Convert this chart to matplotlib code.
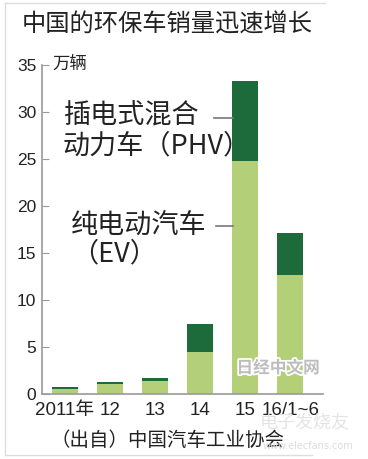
import matplotlib
matplotlib.use("Agg")
import matplotlib.pyplot as plt
import matplotlib.patheffects as pe
from matplotlib.lines import Line2D

categories = ["2011年", "12", "13", "14", "15", "16/1~6"]
ev = [0.5, 1.1, 1.4, 4.5, 24.8, 12.7]
phv = [0.25, 0.15, 0.3, 3.0, 8.5, 4.4]
yticks = [0, 5, 10, 15, 20, 25, 30, 35]

light = "#b3cf77"
dark = "#1d6a3b"
grey = "#9a9a9a"
NUM = ["Liberation Sans", "Noto Sans CJK SC", "DejaVu Sans"]
CJK = ["Noto Sans CJK SC", "DejaVu Sans"]

W, H = 368, 459
fig = plt.figure(figsize=(W / 100, H / 100), dpi=100)
fig.patch.set_facecolor("white")

def fx(px):
    return px / W

def fy(py):
    return 1 - py / H

ax = fig.add_axes([fx(42), fy(394), fx(323) - fx(42), fy(65) - fy(394)])
x = list(range(len(categories)))
ax.bar(x, ev, width=0.58, color=light, zorder=2)
ax.bar(x, phv, width=0.58, bottom=ev, color=dark, zorder=2)
ax.set_xlim(-0.51, 5.73)
ax.set_ylim(0, 35)
for s in ["top", "right"]:
    ax.spines[s].set_visible(False)
for s in ["left", "bottom"]:
    ax.spines[s].set_color(grey)
    ax.spines[s].set_linewidth(1.2)
ax.set_yticks(yticks)
ax.set_yticklabels([str(v) for v in yticks], family=NUM, fontsize=12.5, color="#222222")
ax.tick_params(axis="y", direction="in", length=5, color=grey, pad=4)
ax.set_xticks(x)
ax.set_xticklabels(categories, family=NUM, fontsize=13.5, color="#222222")
ax.tick_params(axis="x", length=0, pad=6)

# title and unit
fig.text(fx(22), fy(25), "中国的环保车销量迅速增长", family=CJK, fontsize=17.5,
         va="center", ha="left", color="#222222")
fig.text(fx(52), fy(64), "万辆", family=CJK, fontsize=12.5, va="center", ha="left",
         color="#222222")

# annotations
fs = 19.5
fig.text(fx(63), fy(116), "插电式混合", family=CJK, fontsize=fs, va="center",
         ha="left", color="#222222")
fig.text(fx(63), fy(146), "动力车（PHV）", family=CJK, fontsize=fs, va="center",
         ha="left", color="#222222")
fig.text(fx(71), fy(225), "纯电动汽车", family=CJK, fontsize=fs, va="center",
         ha="left", color="#222222")
fig.text(fx(71), fy(254), "（EV）", family=CJK, fontsize=fs, va="center",
         ha="left", color="#222222")
fig.add_artist(Line2D([fx(214), fx(233)], [fy(118), fy(118)], color="#777777", lw=1.2))
fig.add_artist(Line2D([fx(216), fx(233)], [fy(226), fy(226)], color="#777777", lw=1.2))

# source
fig.text(fx(50), fy(440), "（出自）中国汽车工业协会", family=CJK, fontsize=14,
         va="center", ha="left", color="#222222")

# watermarks
fig.text(fx(278), fy(368), "日经中文网", family=CJK, fontsize=12, fontweight="bold",
         va="center", ha="center", color="#bdbdbd",
         path_effects=[pe.withStroke(linewidth=2.5, foreground="white")])
fig.text(fx(305), fy(422), "电子发烧友", family=CJK, fontsize=13,
         va="center", ha="center", color="#e4e4e4")
fig.text(fx(308), fy(446), "www.elecfans.com", family="DejaVu Sans", fontsize=7,
         va="center", ha="center", color="#dcdcdc")

# image frame
fig.add_artist(Line2D([fx(5), fx(5)], [fy(3), fy(455)], color="#dddddd", lw=1))
fig.add_artist(Line2D([fx(5), fx(325)], [fy(3), fy(3)], color="#dddddd", lw=1))
fig.add_artist(Line2D([fx(5), fx(312)], [fy(455), fy(455)], color="#dddddd", lw=1))

fig.savefig("out.png", dpi=100, facecolor="white")
